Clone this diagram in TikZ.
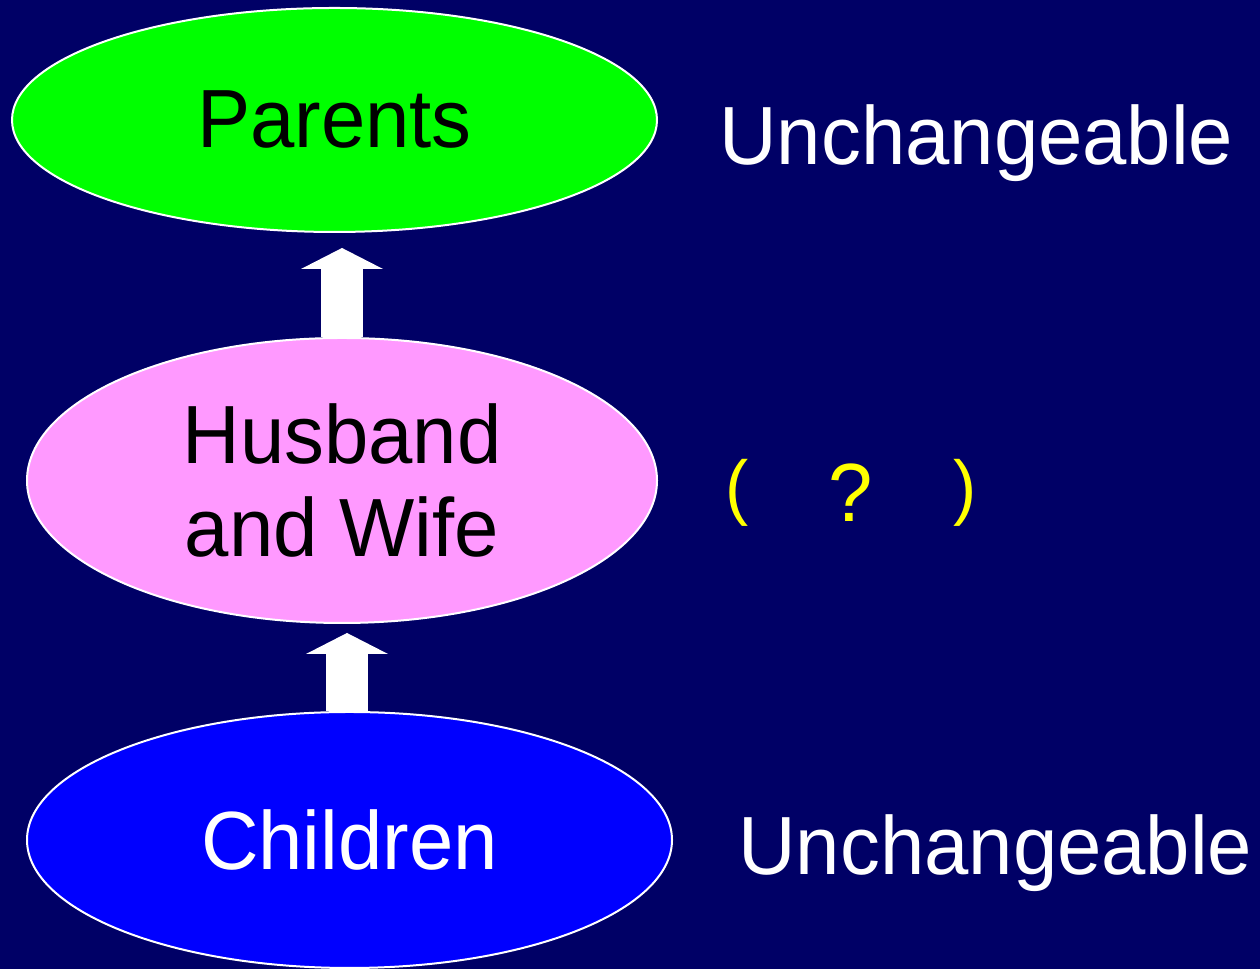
\documentclass[tikz,border=0pt]{standalone}
\usepackage{fontspec}
\newfontfamily\diagfont{Liberation Sans}[FakeStretch=0.965]
\usetikzlibrary{shapes.geometric, arrows.meta, positioning}

\definecolor{bgnavy}{RGB}{0,0,102}
\definecolor{greenfill}{RGB}{0,255,0}
\definecolor{pinkfill}{RGB}{255,153,255}
\definecolor{bluefill}{RGB}{0,0,255}
\definecolor{marky}{RGB}{255,255,0}

\newcommand{\smallparen}[1]{\raisebox{0.2cm}{\fontsize{41}{45}\selectfont #1}}

\begin{document}
\begin{tikzpicture}[
  oval/.style={draw=white, ellipse, line width=0.04cm, inner sep=0pt, align=center, font=\diagfont\fontsize{47}{53.4}\selectfont},
  sidetext/.style={inner sep=0pt, font=\diagfont\fontsize{47}{53.4}\selectfont},
  blockarrow/.style={white, line width=0.84cm, -{Triangle[width=1.64cm, length=0.42cm, line width=0pt]}}
]
  \fill[bgnavy] (0,0) rectangle (25.2,19.38);
  \useasboundingbox (0,0) rectangle (25.2,19.38);

  \node (parents) [oval, fill=greenfill, text=black, minimum width=12.9cm, minimum height=4.48cm] at (6.69,16.98) {Parents};
  \node (husband) [oval, fill=pinkfill, text=black, minimum width=12.6cm, minimum height=5.7cm] at (6.84,9.77) {Husband\\and Wife};
  \node (children) [oval, fill=bluefill, text=white, minimum width=12.9cm, minimum height=5.12cm] at (6.99,2.58) {Children};

  \node (unchtop) [sidetext, text=white, right=1.22cm of parents.east, anchor=base west, yshift=-0.9cm] {Unchangeable};
  \node (question) [sidetext, text=marky, right=1.34cm of husband.east, anchor=base west, yshift=-0.83cm]
    {\smallparen{(}\hspace{1.6cm}?\hspace{1.62cm}\smallparen{)}};
  \node (unchbottom) [sidetext, text=white, right=1.3cm of children.east, anchor=base west, yshift=-0.7cm] {Unchangeable};

  \draw [blockarrow, shorten >=0.3cm] (husband.north) -- (husband.north |- parents.south);
  \draw [blockarrow, shorten >=0.18cm] ([xshift=-0.05cm]children.north) -- ([xshift=-0.05cm]children.north |- husband.south);
\end{tikzpicture}
\end{document}
